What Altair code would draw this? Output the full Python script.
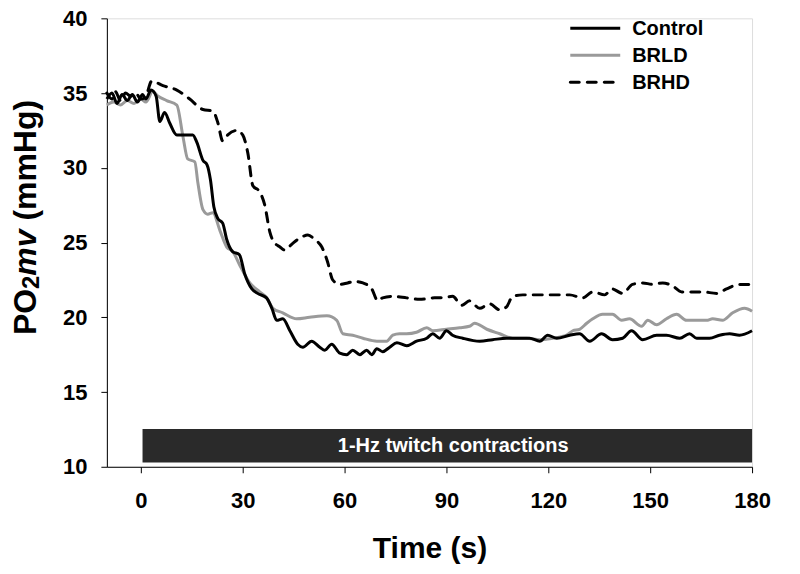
import altair as alt
import pandas as pd

# ---- data ----
control_t = [-10, -8.5, -7, -5.5, -4, -2.5, -1, 0.5, 1.5, 3, 4.5, 5.6, 7, 8.5, 10.6, 15.3, 16.5, 18.3, 19.5,
             20.5, 21.5, 22.7, 24.1, 25.3, 27, 29, 30.6, 32.7, 34.4, 37, 38.6, 40, 41.8, 43.9, 46.2, 47.7,
             50.3, 52.7, 54.2, 56.2, 58.6, 60.6, 62.4, 64.5, 66.5, 68, 69.5, 71.2, 73.3, 75.4, 78.3, 81.2,
             84.2, 86, 88, 90, 91.8, 94.8, 99.8, 103.6, 107.7, 111.6, 114.5, 117.5, 119.8, 122.5, 126.3,
             129.2, 132.2, 135.7, 138.9, 141.9, 144.5, 147.8, 151.9, 154.8, 158.7, 161.6, 163.7, 167.5,
             170.4, 173.4, 176.3, 180]
control_v = [34.6, 35.0, 34.3, 34.9, 34.5, 34.9, 34.4, 34.9, 34.6, 35.2, 34.8, 33.1, 33.7, 33.0, 32.2, 32.2,
             31.7, 30.5, 30.2, 29.2, 27.4, 26.6, 26.3, 25.2, 24.4, 24.2, 22.9, 21.9, 21.6, 21.3, 20.6, 19.8,
             19.9, 19.1, 18.2, 18.0, 18.4, 18.0, 17.8, 18.2, 17.6, 17.5, 17.8, 17.5, 17.8, 17.5, 17.9, 17.7,
             18.0, 18.3, 18.1, 18.4, 18.6, 18.9, 18.6, 19.1, 18.8, 18.6, 18.4, 18.5, 18.6, 18.6, 18.6, 18.4,
             18.8, 18.6, 18.8, 18.9, 18.4, 18.9, 18.5, 18.6, 19.1, 18.5, 18.8, 18.8, 18.6, 18.9, 18.6, 18.6,
             18.8, 18.9, 18.8, 19.1]

brld_t = [-10, -8, -6, -4, -2, 0, 1.5, 3.5, 5, 7.6, 10.6, 12.4, 13.8, 15.9, 16.8, 18.3, 19.7, 21.2, 23.3,
          25.3, 27.1, 29.1, 32.1, 35, 37.1, 38.9, 41.8, 45.9, 49.7, 54.8, 57.7, 59.5, 62.4, 65.4, 69.5, 72.4,
          74.2, 76.2, 78.3, 81.2, 84.2, 86, 90, 93.9, 96.8, 98.3, 101.9, 105.7, 109.5, 113.6, 117.5, 121.3,
          125.4, 127.2, 129.2, 131.3, 133.1, 136, 138.9, 141.6, 143.9, 147.5, 149.3, 151.9, 154.8, 157.8,
          160.7, 163.7, 166.6, 168.4, 171.3, 174.3, 177.8, 180]
brld_v = [34.2, 34.4, 34.2, 34.5, 34.3, 34.6, 34.4, 35.1, 34.8, 34.5, 34.2, 32.1, 30.6, 30.4, 29.0, 27.2,
          26.9, 27.0, 25.8, 24.7, 24.4, 23.5, 22.3, 21.7, 21.3, 20.6, 20.3, 19.9, 20.0, 20.1, 19.8, 18.9,
          18.8, 18.6, 18.4, 18.4, 18.8, 18.9, 18.9, 19.0, 19.3, 19.1, 19.2, 19.3, 19.4, 19.6, 19.2, 18.9,
          18.6, 18.6, 18.5, 18.6, 18.8, 19.1, 19.2, 19.6, 19.9, 20.2, 20.2, 19.8, 19.9, 19.4, 19.8, 19.5,
          19.9, 20.2, 19.8, 19.8, 19.8, 19.9, 19.8, 20.3, 20.6, 20.4]

brhd_t = [-10, -8.5, -7.5, -6, -4.5, -3, -1.5, 0, 1.5, 3.2, 6.5, 10.6, 14.4, 18.3, 21.2, 22.7, 24.1, 25.6,
          28.3, 30, 31.5, 33, 35, 36.5, 38, 39, 41, 42.4, 44.5, 46.8, 49.2, 51.2, 53.3, 55, 56.5, 58.6, 60.9,
          63, 65.4, 68, 69.8, 71.2, 74.2, 78.3, 82.1, 86.5, 88.9, 91.8, 94.5, 96.8, 99.8, 102.7, 105.7, 107.7,
          109.5, 112.5, 116.6, 120.4, 124.2, 126.3, 130.1, 133.1, 136.6, 138.7, 141.9, 144.8, 147.8, 150.7,
          153.7, 156.6, 159.3, 162.5, 165.4, 169.6, 172.5, 176.3, 180]
brhd_v = [35.0, 34.6, 35.1, 34.5, 35.0, 34.8, 35.0, 34.6, 34.8, 35.8, 35.5, 35.2, 34.6, 33.9, 33.8, 33.0,
          31.8, 32.2, 32.5, 32.2, 31.0, 28.8, 28.4, 27.5, 25.7, 25.1, 24.7, 24.5, 24.9, 25.3, 25.5, 25.2,
          24.7, 23.7, 22.5, 22.2, 22.3, 22.4, 22.3, 21.9, 21.1, 21.3, 21.4, 21.3, 21.2, 21.3, 21.3, 21.4,
          20.8, 21.1, 20.6, 20.9, 20.5, 20.7, 21.4, 21.5, 21.5, 21.5, 21.5, 21.5, 21.3, 21.7, 21.5, 21.9,
          21.6, 22.2, 22.3, 22.2, 22.3, 22.1, 21.7, 21.7, 21.7, 21.6, 21.9, 22.2, 22.2]

series_names = ["Control", "BRLD", "BRHD"]
series_colors = ["#000000", "#9a9a9a", "#000000"]
x_ticks = [0, 30, 60, 90, 120, 150, 180]
y_ticks = [10, 15, 20, 25, 30, 35, 40]
bar_label = "1-Hz twitch contractions"
bar_start, bar_end, bar_low, bar_high = 0.5, 180, 10.28, 12.52

FONT = "Liberation Sans"
DASH = [9, 8]
TOP = 10          # top padding (plot top at 8 + TOP)
SHIFT = TOP - 7   # offset of pixel-placed items relative to earlier layout

rows = []
for name, ts, vs in [("Control", control_t, control_v), ("BRLD", brld_t, brld_v), ("BRHD", brhd_t, brhd_v)]:
    for t, v in zip(ts, vs):
        rows.append({"series": name, "t": t, "v": v})
df = pd.DataFrame(rows)

xs = alt.Scale(domain=[-10, 180], nice=False, zero=False)
ys = alt.Scale(domain=[10, 40], nice=False, zero=False)

X = alt.X("t:Q", scale=xs,
          axis=alt.Axis(values=x_ticks, title="Time (s)", grid=False, tickSize=6, labelPadding=18,
                        titlePadding=22, labelFontSize=22, titleFontSize=30, labelFontWeight="bold",
                        titleFontWeight="bold", labelFont=FONT, titleFont=FONT, domainColor="black",
                        tickColor="black", labelColor="black", titleColor="black", labelFlush=False))
Y = alt.Y("v:Q", scale=ys,
          axis=alt.Axis(values=y_ticks, title=None, grid=False, tickSize=6, labelPadding=14,
                        labelFontSize=22, labelFontWeight="bold", labelFont=FONT, domainColor="black",
                        tickColor="black", labelColor="black", labelFlush=False))

base = alt.Chart(df)

def series_line(name, color, dash):
    kw = dict(color=color, strokeWidth=3, strokeJoin="round", interpolate="monotone")
    if dash:
        kw["strokeDash"] = dash
        kw["strokeCap"] = "round"
    return base.transform_filter(alt.datum.series == name).mark_line(**kw).encode(x=X, y=Y, order="t:Q")

l_brld = series_line("BRLD", series_colors[1], None)
l_ctrl = series_line("Control", series_colors[0], None)
l_brhd = series_line("BRHD", series_colors[2], DASH)

bar_df = pd.DataFrame({"x": [bar_start], "x2": [bar_end], "y": [bar_low], "y2": [bar_high],
                       "label": [bar_label], "xm": [92], "ym": [11.4]})
bar = alt.Chart(bar_df).mark_rect(color="#2a2a2a").encode(
    x=alt.X("x:Q", scale=xs), x2="x2:Q", y=alt.Y("y:Q", scale=ys), y2="y2:Q")
bar_text = alt.Chart(bar_df).mark_text(color="white", font=FONT, fontSize=20, fontWeight="bold",
                                       baseline="middle", align="center").encode(
    x=alt.X("xm:Q", scale=xs), y=alt.Y("ym:Q", scale=ys), text="label:N")

# legend (manual)
leg_layers = []
leg_y = [13 - SHIFT, 40 - SHIFT, 67 - SHIFT]
dashes = [None, None, DASH]
for name, col, dash, yy in zip(series_names, series_colors, dashes, leg_y):
    kw = dict(color=col, strokeWidth=3)
    if dash:
        kw["strokeDash"] = dash
        kw["strokeCap"] = "round"
    leg_layers.append(alt.Chart(pd.DataFrame({"n": [name]})).mark_rule(**kw).encode(
        x=alt.value(464), x2=alt.value(514), y=alt.value(yy)))
    leg_layers.append(alt.Chart(pd.DataFrame({"n": [name]})).mark_text(
        font=FONT, fontSize=20, fontWeight="bold", align="left", baseline="middle", color="black").encode(
        x=alt.value(526), y=alt.value(yy + 1), text="n:N"))

# y-axis title built from segments: PO, subscript 2, italic mv, (mmHg)
ytitle = []
segs = [("PO", 32, "normal", 320, -71), ("2", 24, "normal", 274, -68),
        ("mv", 32, "italic", 260.7, -71), ("(mmHg)", 32, "normal", 205.5, -71)]
for txt, fs, style, ypos, xpos in segs:
    ytitle.append(alt.Chart(pd.DataFrame({"s": [txt]})).mark_text(
        font=FONT, fontSize=fs, fontWeight="bold", fontStyle=style, angle=270, align="left",
        baseline="alphabetic", color="black").encode(x=alt.value(xpos), y=alt.value(ypos - SHIFT), text="s:N"))

chart = alt.layer(bar, bar_text, l_brld, l_ctrl, l_brhd, *leg_layers, *ytitle).properties(
    width=646, height=452 - SHIFT,
    autosize=alt.AutoSizeParams(type="none"),
    padding={"left": 99, "top": TOP, "right": 40, "bottom": 100},
).configure_view(stroke=None).configure(background="white")

chart.save("out.html", embed_options={"renderer": "svg", "actions": False})
